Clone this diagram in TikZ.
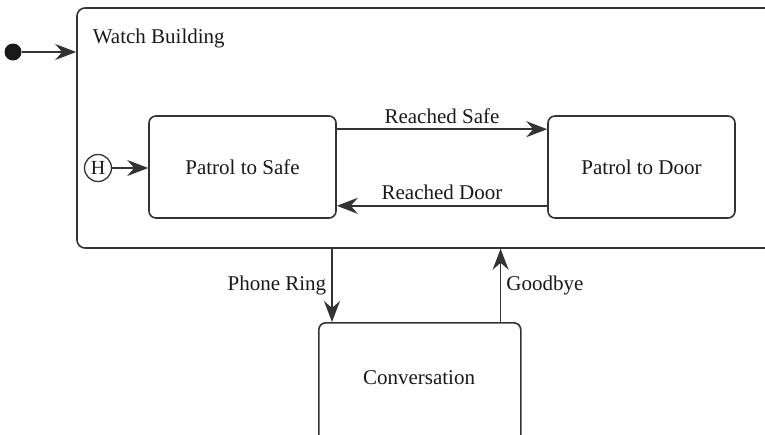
\documentclass[tikz,border=0pt]{standalone}
\usepackage{fontspec}
\setmainfont{Liberation Serif}
\usetikzlibrary{arrows.meta,calc}
\begin{document}
\begin{tikzpicture}[x=1pt,y=-1pt,
  line width=1.6pt,
  every node/.style={font=\fontsize{21}{24}\selectfont, text=black!90},
  state/.style={draw=black!80, rounded corners=7pt, minimum width=187pt, minimum height=102pt, inner sep=0pt},
  arr/.style={draw=black!80, -{Stealth[length=21pt,width=16pt,inset=7pt]}},
  lbl/.style={inner sep=2pt}
]
\useasboundingbox (0,0) rectangle (765,434);
\clip (0,0) rectangle (765,434);
\node[draw=black!80, rounded corners=8pt, minimum width=733pt, minimum height=240pt, inner sep=0pt] (wb) at (443.5,128) {};
\node[anchor=west, lbl] (wbl) at (90,38) {Watch Building};
\node[circle, fill=black!90, minimum size=17pt, inner sep=0pt] (init) at (13,52) {};
\draw[arr] (init) -- (init -| wb.west);
\node[state] (pts) at (242.5,167) {Patrol to Safe};
\node[state] (ptd) at (641.5,167) {Patrol to Door};
\node[circle, draw=black!80, line width=1.3pt, minimum size=27pt, inner sep=0pt, font=\fontsize{20}{22}\selectfont] (h) at (98,168) {H};
\draw[arr] (h) -- (h -| pts.west);
\draw[arr] ($(pts.north east)+(0,14)$) -- node[above, lbl, yshift=3pt] (rs) {Reached Safe} ($(ptd.north west)+(0,14)$);
\draw[arr] ($(ptd.south west)+(0,-13)$) -- node[above, lbl, yshift=3pt] (rd) {Reached Door} ($(pts.south east)+(0,-13)$);
\node[state, minimum width=202pt, minimum height=140pt, anchor=north west] (conv) at (318,322) {};
\node (convl) at (419,378) {Conversation};
\coordinate (pdn) at ($(conv.north west)+(14,0)$);
\coordinate (gup) at ($(conv.north east)+(-21,0)$);
\draw[arr] (pdn |- wb.south) -- node[left, lbl, xshift=-3pt] (pr) {Phone Ring} (pdn);
\draw[arr] (gup) -- node[right, lbl, xshift=3pt] (gb) {Goodbye} (gup |- wb.south);
\end{tikzpicture}
\end{document}
